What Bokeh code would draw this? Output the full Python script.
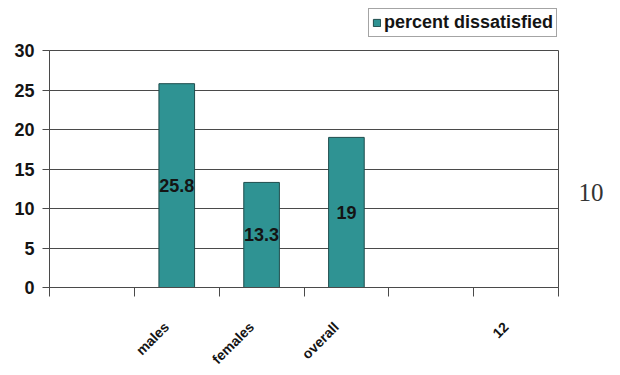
import math

from bokeh.plotting import figure
from bokeh.layouts import row, column
from bokeh.models import (Range1d, FixedTicker, Legend, LegendItem, Label,
                          ColumnDataSource)
from bokeh.core.properties import value
from bokeh.embed import file_html
from bokeh.resources import INLINE

# Category slots along the x axis (blank slots are empty groups)
categories = ["", "males", "females", "overall", "", "12"]
# Bars: group name and percent dissatisfied
bar_groups = ["males", "females", "overall"]
bar_values = [25.8, 13.3, 19.0]
bar_text = ["25.8", "13.3", "19"]
y_ticks = [0, 5, 10, 15, 20, 25, 30]
series_name = "percent dissatisfied"
side_note = "10"

FONT = "Liberation Sans"
INK = "#141414"
TEAL = "#2f9393"
EDGE = "#1f4d4d"
GRID = "#4a4a4a"

slot_centres = [i + 0.5 for i in range(len(categories))]
bar_x = [categories.index(g) + 0.5 for g in bar_groups]

src = ColumnDataSource(dict(
    x=bar_x,
    top=bar_values,
    mid=[v / 2 for v in bar_values],
    text=bar_text,
))


def blank(width, height):
    f = figure(width=width, height=height, output_backend="svg",
               toolbar_location=None, x_range=Range1d(0, 1),
               y_range=Range1d(0, 1), x_axis_type=None, y_axis_type=None,
               min_border=0, outline_line_color=None)
    f.grid.visible = False
    f.border_fill_color = "white"
    return f


# main bar chart
p = figure(width=560, height=338, output_backend="svg", toolbar_location=None,
           x_range=Range1d(0, len(categories)), y_range=Range1d(0, 30),
           min_border_left=49, min_border_right=2,
           min_border_top=13, min_border_bottom=82)
p.background_fill_color = "white"
p.border_fill_color = "white"
p.outline_line_color = GRID
p.outline_line_width = 1

p.vbar(x="x", top="top", width=0.42, source=src,
       fill_color=TEAL, line_color=EDGE, line_width=1)

p.text(x="x", y="mid", text="text", source=src,
       text_align="center", text_baseline="middle",
       text_font=value(FONT), text_font_style="bold", text_font_size="18px",
       text_color=INK)

# y axis
p.yaxis.ticker = FixedTicker(ticks=y_ticks)
p.yaxis.axis_line_color = GRID
p.yaxis.major_tick_in = 0
p.yaxis.major_tick_out = 7
p.yaxis.major_tick_line_color = GRID
p.yaxis.minor_tick_line_color = None
p.yaxis.major_label_text_font = FONT
p.yaxis.major_label_text_font_style = "bold"
p.yaxis.major_label_text_font_size = "18px"
p.yaxis.major_label_text_color = INK
p.yaxis.major_label_standoff = 8

# x axis: labels just left of slot centres, tick marks on slot boundaries
label_shift = 0.12
named = [(c - label_shift, name) for c, name in zip(slot_centres, categories) if name]
p.xaxis.ticker = FixedTicker(ticks=[t for t, _ in named],
                             minor_ticks=list(range(len(categories) + 1)))
p.xaxis.major_label_overrides = {t: name for t, name in named}
p.xaxis.axis_line_color = GRID
p.xaxis.major_tick_line_color = None
p.xaxis.major_tick_in = 0
p.xaxis.major_tick_out = 0
p.xaxis.minor_tick_line_color = GRID
p.xaxis.minor_tick_in = 0
p.xaxis.minor_tick_out = 9
p.xaxis.major_label_orientation = math.pi / 4
p.xaxis.major_label_text_font = FONT
p.xaxis.major_label_text_font_style = "bold"
p.xaxis.major_label_text_font_size = "14px"
p.xaxis.major_label_text_color = INK
p.xaxis.major_label_standoff = 28

p.xgrid.grid_line_color = None
p.ygrid.grid_line_color = GRID
p.ygrid.grid_line_width = 1.2

# strip above the chart carrying the series key
key = blank(620, 37)
key_swatch = key.vbar(x=[5], top=[1], width=0.1,
                      fill_color=TEAL, line_color=EDGE, line_width=1)
key.add_layout(Legend(items=[LegendItem(label=series_name, renderers=[key_swatch])],
                      location=(368, 0), orientation="horizontal",
                      border_line_color=GRID, border_line_width=1.2,
                      background_fill_color="white", background_fill_alpha=1,
                      padding=3, margin=0, spacing=0,
                      glyph_width=9, glyph_height=9, label_standoff=3,
                      label_text_font=FONT, label_text_font_style="bold",
                      label_text_font_size="18px", label_text_color=INK,
                      label_height=18))

# narrow strip to the right holding the stray page number
# (its frame lines up with the chart frame, so y is measured from the x axis)
note = blank(60, 338)
note.add_layout(Label(x=18, y=95, x_units="screen", y_units="screen",
                      text=side_note, text_font="Liberation Serif",
                      text_font_size="25px", text_color="#333333",
                      text_baseline="middle"))

layout = column(key, row(p, note, spacing=0), spacing=0)
open("out.html", "w").write(file_html(layout, INLINE))
